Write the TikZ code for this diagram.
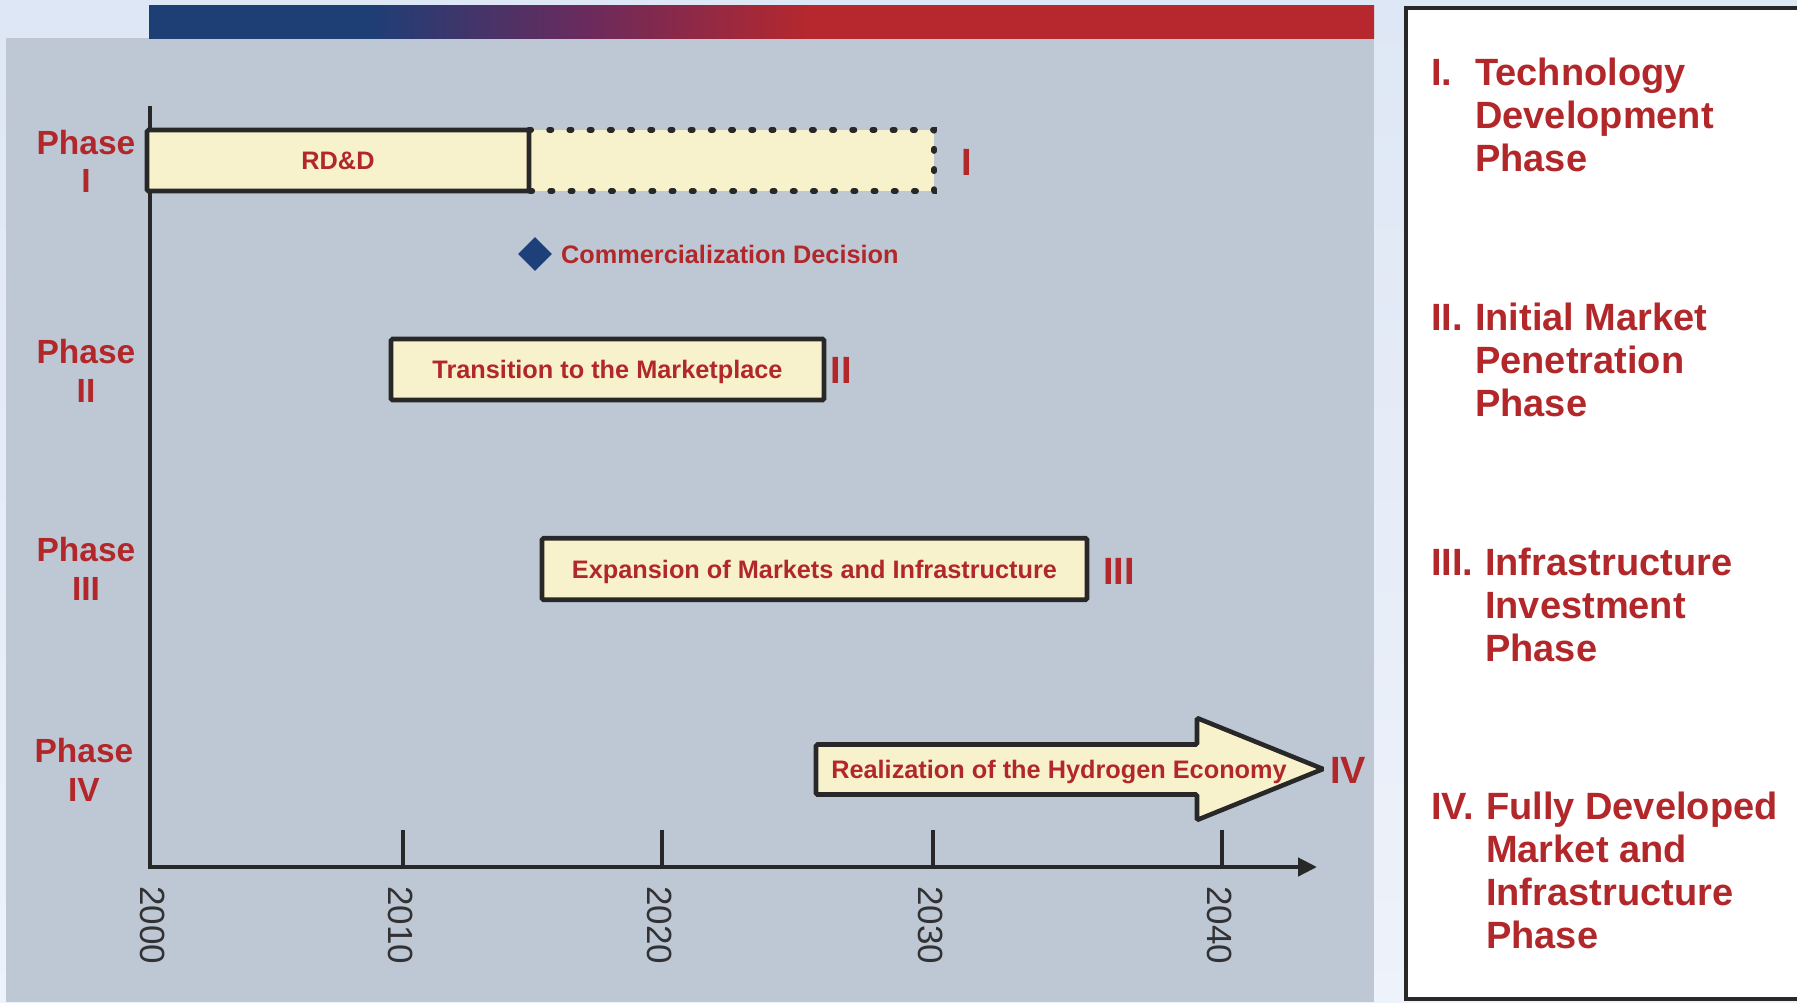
\documentclass[tikz,border=0pt]{standalone}
\usepackage{fontspec}
\setmainfont{Liberation Sans}
\usetikzlibrary{arrows.meta,shapes.geometric}

\definecolor{skytop}{RGB}{222,231,245}
\definecolor{skybottom}{RGB}{238,242,250}
\definecolor{panelgray}{RGB}{189,200,212}
\definecolor{cream}{RGB}{248,242,204}
\definecolor{phasered}{RGB}{178,40,42}
\definecolor{ink}{RGB}{40,40,40}
\definecolor{yeargray}{RGB}{50,50,52}
\definecolor{decisionblue}{RGB}{30,64,122}
\definecolor{barnavy}{RGB}{30,62,118}
\definecolor{barpurple}{RGB}{108,42,92}
\definecolor{barred}{RGB}{182,40,45}

% header bar: navy on the left, through purple, to red
\pgfdeclarehorizontalshading{topbar}{100bp}{color(0bp)=(barnavy); color(34bp)=(barnavy); color(43bp)=(barpurple); color(52bp)=(barred); color(100bp)=(barred)}

\tikzset{
  boxtext/.style={text=phasered, font=\bfseries\fontsize{25.3}{30}\selectfont, inner sep=0pt},
  phaselabel/.style={text=phasered, font=\bfseries\fontsize{33.5}{39}\selectfont, inner sep=0pt, anchor=base},
  numeral/.style={text=phasered, font=\bfseries\fontsize{38}{43}\selectfont, inner sep=0pt, anchor=base},
  legendline/.style={text=phasered, font=\bfseries\fontsize{38}{43}\selectfont, inner sep=0pt, anchor=base west},
  phasebox/.style={draw=ink, fill=cream, line width=4.6pt, rounded corners=1.5pt, inner sep=0pt},
  yearlabel/.style={text=yeargray, font=\fontsize{35}{40}\selectfont, rotate=-90, anchor=west, inner sep=0pt},
  axisline/.style={draw=ink, line width=4.3pt},
}

\begin{document}
\begin{tikzpicture}[x=1pt, y=-1pt]
\useasboundingbox (0,0) rectangle (1797,1002);
\clip (0,0) rectangle (1797,1002);

% backdrop, chart panel and header bar
\shade[top color=skytop, bottom color=skybottom] (0,0) rectangle (1797,1002);
\fill[panelgray] (6,38) rectangle (1374,1002);
\shade[shading=topbar] (149,5) rectangle (1374,38);

% legend panel
\draw[ink, line width=4pt, fill=white] (1406,8) rectangle (1830,999);

% axes
\coordinate (ytop) at (150,106);
\coordinate (origin) at (150,867);
\coordinate (xend) at (1317,867);
\draw[axisline, -{Triangle[length=19pt, width=18pt]}] (ytop) -- (origin) -- (xend);

% ticks and years
\draw[axisline] (403,830) -- (403,867);
\draw[axisline] (662,830) -- (662,867);
\draw[axisline] (933,830) -- (933,867);
\draw[axisline] (1222,830) -- (1222,867);
\node[yearlabel] (y2000) at (153,886) {2000};
\node[yearlabel] (y2010) at (401,886) {2010};
\node[yearlabel] (y2020) at (660,886) {2020};
\node[yearlabel] (y2030) at (931,886) {2030};
\node[yearlabel] (y2040) at (1220,886) {2040};

% phase labels along the vertical axis
\node[phaselabel] (ph1a) at (86,154) {Phase};
\node[phaselabel] (ph1b) at (86,192) {I};
\node[phaselabel] (ph2a) at (86,363) {Phase};
\node[phaselabel] (ph2b) at (86,402) {II};
\node[phaselabel] (ph3a) at (86,561) {Phase};
\node[phaselabel] (ph3b) at (86,600) {III};
\node[phaselabel] (ph4a) at (84,762) {Phase};
\node[phaselabel] (ph4b) at (84,801) {IV};

% Phase I: RD&D with its dotted continuation
\node[fill=cream, minimum width=405pt, minimum height=61pt, inner sep=0pt] (rddext) at (731.5,160.5) {};
\draw[ink, line width=5.5pt, line cap=round, dash pattern=on 2.5pt off 17.7pt]
  (rddext.north west) -- (rddext.north east) -- (rddext.south east) -- (rddext.south west);
\node[phasebox, minimum width=382pt, minimum height=61pt] (rdd) at (338,160.5) {};
\node[boxtext, anchor=base] (rddtxt) at (338,169.5) {RD\&D};
\node[numeral] (num1) at (967,175) {I};

% commercialization milestone
\node[diamond, fill=decisionblue, minimum width=34pt, minimum height=34pt, inner sep=0pt] (cdec) at (535,254) {};
\node[boxtext, anchor=base west] (cdectxt) at (561,263) {Commercialization Decision};

% Phase II
\node[phasebox, minimum width=433pt, minimum height=61pt] (trans) at (607.5,369.5) {};
\node[boxtext, anchor=base] (transtxt) at (607.5,378.5) {Transition to the Marketplace};
\node[numeral] (num2) at (841,383) {II};

% Phase III
\node[phasebox, minimum width=545pt, minimum height=61.5pt] (expn) at (814.5,569) {};
\node[boxtext, anchor=base] (expntxt) at (814.5,578) {Expansion of Markets and Infrastructure};
\node[numeral] (num3) at (1119,584) {III};

% Phase IV: block arrow
\draw[phasebox] (816,744.5) -- (1197,744.5) -- (1197,718) -- (1323,769) -- (1197,820) -- (1197,794.5) -- (816,794.5) -- cycle;
\node[boxtext, anchor=base] (arrtxt) at (1059,778) {Realization of the Hydrogen Economy};
\node[numeral] (num4) at (1348,783) {IV};

% legend entries
\node[legendline] (l1n) at (1431,85) {I.};
\node[legendline] (l1a) at (1475,85) {Technology};
\node[legendline] (l1b) at (1475,128) {Development};
\node[legendline] (l1c) at (1475,171) {Phase};

\node[legendline] (l2n) at (1431,330) {II.};
\node[legendline] (l2a) at (1475,330) {Initial Market};
\node[legendline] (l2b) at (1475,373) {Penetration};
\node[legendline] (l2c) at (1475,416) {Phase};

\node[legendline] (l3n) at (1431,575) {III.};
\node[legendline] (l3a) at (1485,575) {Infrastructure};
\node[legendline] (l3b) at (1485,618) {Investment};
\node[legendline] (l3c) at (1485,661) {Phase};

\node[legendline] (l4n) at (1431,819) {IV.};
\node[legendline] (l4a) at (1486,819) {Fully Developed};
\node[legendline] (l4b) at (1486,862) {Market and};
\node[legendline] (l4c) at (1486,905) {Infrastructure};
\node[legendline] (l4d) at (1486,948) {Phase};
\end{tikzpicture}
\end{document}
